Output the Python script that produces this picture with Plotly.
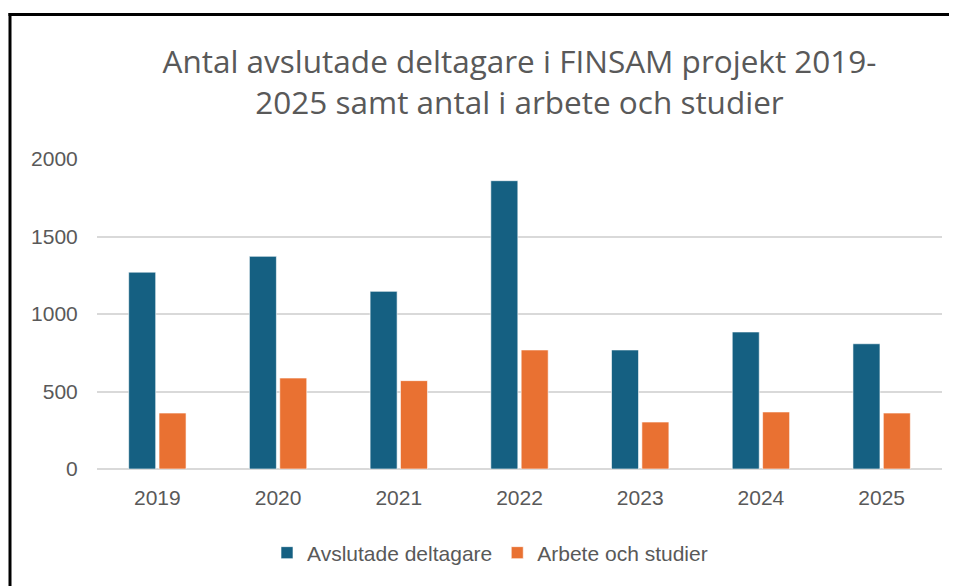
import plotly.graph_objects as go

years = ["2019", "2020", "2021", "2022", "2023", "2024", "2025"]
avslutade = [1270, 1372, 1146, 1860, 768, 884, 808]
arbete = [361, 587, 570, 768, 303, 368, 361]
y_ticks = [0, 500, 1000, 1500, 2000]

title_text = "Antal avslutade deltagare i FINSAM projekt 2019-<br>2025 samt antal i arbete och studier"

gray = "#595959"
tick_font = dict(family="Liberation Sans, Arial, sans-serif", size=21, color=gray)

fig = go.Figure()
fig.add_trace(go.Bar(x=years, y=avslutade, name="Avslutade deltagare",
                     marker=dict(color="#156082", line=dict(color="rgba(255,255,255,0.6)", width=1))))
fig.add_trace(go.Bar(x=years, y=arbete, name="Arbete och studier",
                     marker=dict(color="#E97132", line=dict(color="rgba(255,255,255,0.6)", width=1))))

# the page has an 8px body margin, so the figure is laid out in window coords minus 8
OFF = 8
W, H = 949, 578
ml, mr, mt, mb = 89, 15, 151, 117
pw = W - ml - mr
ph = H - mt - mb

def px_to_paper_x(px):
    return (px - OFF - ml) / pw

def px_to_paper_y(py):
    return (H - mb - (py - OFF)) / ph

fig.update_layout(
    width=W, height=H,
    margin=dict(l=ml, r=mr, t=mt, b=mb, pad=0, autoexpand=False),
    paper_bgcolor="white", plot_bgcolor="white",
    barmode="group", bargap=0.497, bargroupgap=0.11,
    title=dict(text=title_text, x=0.5, xref="paper", xanchor="center",
               y=1 - 65 / H, yref="container", yanchor="middle",
               font=dict(family="Open Sans, Roboto, sans-serif",
                         size=31.5, color=gray)),
    xaxis=dict(showgrid=False, ticks="outside", ticklen=10, tickcolor="rgba(0,0,0,0)",
               tickfont=tick_font, showline=False, zeroline=False, automargin=False),
    yaxis=dict(range=[0, 2000], tickvals=y_ticks, ticktext=[str(v) for v in y_ticks],
               showgrid=True, gridcolor="#d9d9d9", gridwidth=1.5,
               zeroline=True, zerolinecolor="#d9d9d9", zerolinewidth=1.5,
               ticks="outside", ticklen=14, tickcolor="rgba(0,0,0,0)",
               tickfont=tick_font, showline=False, automargin=False),
    legend=dict(orientation="h", x=px_to_paper_x(490), xanchor="center",
                y=px_to_paper_y(553), yanchor="middle",
                font=dict(family="Liberation Sans, Arial, sans-serif", size=21, color=gray),
                itemwidth=30, bgcolor="rgba(0,0,0,0)"),
    shapes=[
        dict(type="line", xref="paper", yref="paper",
             x0=px_to_paper_x(8.5), x1=px_to_paper_x(960),
             y0=px_to_paper_y(14.5), y1=px_to_paper_y(14.5),
             line=dict(color="black", width=3), layer="below"),
        dict(type="line", xref="paper", yref="paper",
             x0=px_to_paper_x(10), x1=px_to_paper_x(10),
             y0=px_to_paper_y(13), y1=px_to_paper_y(590),
             line=dict(color="black", width=3), layer="below"),
    ],
)

fig.write_html("out.html")
